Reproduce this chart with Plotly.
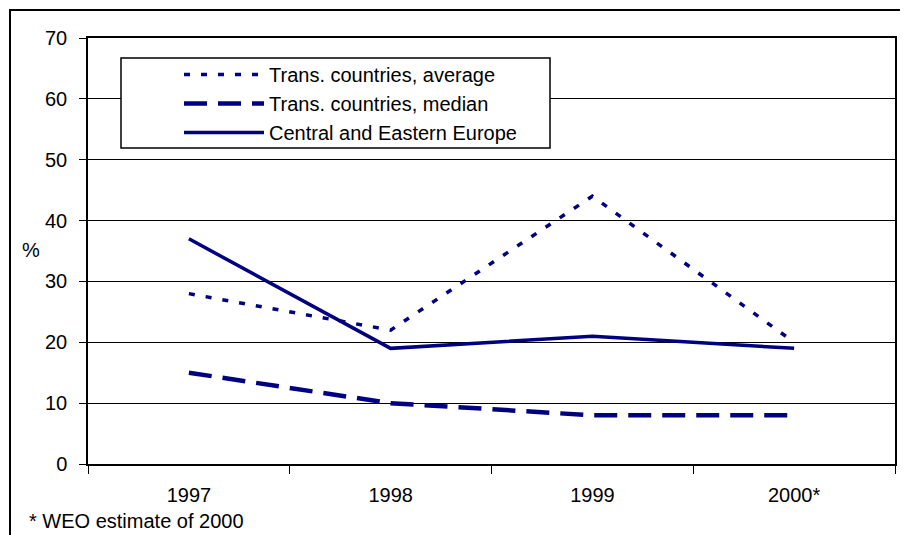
import plotly.graph_objects as go

years = ["1997", "1998", "1999", "2000*"]
trans_avg = [28, 22, 44, 20]
trans_median = [15, 10, 8, 8]
cee = [37, 19, 21, 19]
y_ticks = [0, 10, 20, 30, 40, 50, 60, 70]
names = ["Trans. countries, average", "Trans. countries, median", "Central and Eastern Europe"]
footnote = "* WEO estimate of 2000"
y_label = "%"

NAVY = "#000080"
FONT = "Liberation Sans, Arial, sans-serif"

fig = go.Figure()
fig.add_trace(go.Scatter(x=years, y=trans_avg, name=names[0], mode="lines",
                         line=dict(color=NAVY, width=3.5, dash="6px,11px")))
fig.add_trace(go.Scatter(x=years, y=trans_median, name=names[1], mode="lines",
                         line=dict(color=NAVY, width=4.5, dash="23px,11px")))
fig.add_trace(go.Scatter(x=years, y=cee, name=names[2], mode="lines",
                         line=dict(color=NAVY, width=3.5)))

# page body has an 8px margin; figure is sized so the page layout matches
OFF = 8
PAGE_W, PAGE_H = 908, 535
W, H = PAGE_W - OFF, PAGE_H - OFF
PL, PR_EDGE, PT, PB_EDGE = 88, 895, 38, 464   # plot area in page pixels
L, R, T, B = PL - OFF, PAGE_W - PR_EDGE, PT - OFF, PAGE_H - PB_EDGE
pw, ph = PR_EDGE - PL, PB_EDGE - PT

def px(x):
    return (x - PL) / pw

def py(y):
    return (PB_EDGE - y) / ph

fig.update_layout(
    width=W, height=H,
    margin=dict(l=L, r=R, t=T, b=B),
    paper_bgcolor="white", plot_bgcolor="white",
    font=dict(family=FONT, size=20, color="black"),
    showlegend=True,
    legend=dict(x=px(179), y=py(55), xanchor="left", yanchor="top",
                bgcolor="rgba(0,0,0,0)", borderwidth=0,
                font=dict(size=20), itemwidth=80, tracegroupgap=0),
    xaxis=dict(type="category", range=[-0.5, 3.5], tickson="boundaries",
               ticks="outside", ticklen=8, tickcolor="black", tickwidth=1,
               showline=True, linecolor="black", linewidth=1.5, mirror=True,
               showgrid=False, zeroline=False, ticklabelstandoff=12,
               tickfont=dict(size=20)),
    yaxis=dict(range=[0, 70], tickvals=y_ticks, ticks="outside", ticklen=7,
               tickcolor="black", showline=True, linecolor="black", linewidth=1.5,
               mirror=True, showgrid=True, gridcolor="black", gridwidth=1,
               zeroline=False, ticklabelstandoff=8, tickfont=dict(size=20)),
    shapes=[
        dict(type="rect", xref="paper", yref="paper",
             x0=px(10), x1=px(920), y0=py(550), y1=py(10),
             line=dict(color="black", width=2), fillcolor="rgba(0,0,0,0)", layer="below"),
        dict(type="rect", xref="paper", yref="paper",
             x0=px(121), x1=px(550), y0=py(148), y1=py(58),
             line=dict(color="black", width=1.5), fillcolor="white", layer="above"),
    ],
    annotations=[
        dict(text=y_label, xref="paper", yref="paper", x=px(31), y=py(250),
             showarrow=False, font=dict(size=20), xanchor="center", yanchor="middle"),
        dict(text=footnote, xref="paper", yref="paper", x=px(27), y=py(521),
             showarrow=False, font=dict(size=20), xanchor="left", yanchor="middle"),
    ],
)

fig.write_html("out.html")
